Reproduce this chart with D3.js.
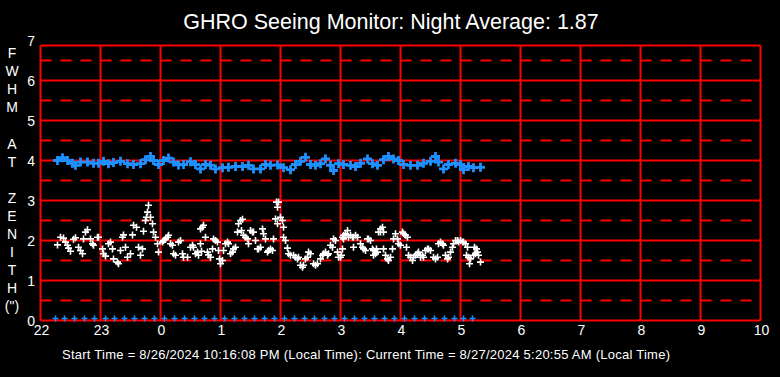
<!DOCTYPE html>
<html><head><meta charset="utf-8">
<script src="https://cdn.jsdelivr.net/npm/d3@7"></script>
<style>html,body{margin:0;padding:0;background:#000;}svg{display:block;}</style>
</head><body>
<script>
// ---- data (minutes after 22:00, FWHM arcsec) ----
const title = "GHRO Seeing Monitor: Night Average: 1.87";
const footer = "Start Time = 8/26/2024 10:16:08 PM (Local Time): Current Time = 8/27/2024 5:20:55 AM (Local Time)";
const yLabel = ["F","W","H","M","","A","T","","Z","E","N","I","T","H","(\")"];
const xTickLabels = ["22","23","0","1","2","3","4","5","6","7","8","9","10"];
const yTickLabels = ["0","1","2","3","4","5","6","7"];

const blueMin = [17,22,27,32,35,40,47,53,58,63,68,73,80,87,93,100,105,110,113,118,123,128,133,138,143,150,155,160,165,170,175,182,188,195,202,208,213,220,225,230,237,243,250,255,260,265,270,275,280,285,290,293,298,303,310,315,320,327,332,337,343,348,353,358,363,370,377,383,390,395,398,403,408,415,420,423,428,433,440];
const blueVal = [4.00,4.07,4.00,3.93,3.88,3.96,3.96,3.93,3.93,3.98,3.92,3.95,3.98,3.92,3.90,3.92,4.02,4.10,4.00,3.90,4.00,4.06,3.96,3.89,3.90,3.97,3.90,3.79,3.90,3.88,3.79,3.82,3.83,3.85,3.85,3.88,3.79,3.79,3.90,3.88,3.89,3.82,3.77,3.90,3.98,4.08,3.90,3.88,3.92,4.04,3.88,3.75,3.92,3.90,3.88,3.85,3.93,4.04,3.92,3.88,4.02,4.10,4.04,4.00,3.90,3.88,3.88,3.93,3.98,4.10,3.96,3.79,3.90,3.93,3.90,3.77,3.85,3.82,3.83];

const whiteMin = [17,20,23,25,27,28,30,33,35,38,40,42,43,45,47,50,52,53,57,58,62,63,65,68,70,72,73,77,78,80,82,83,85,87,90,92,93,96,98,100,102,103,105,107,108,106,110,112,113,115,117,118,122,123,125,127,128,130,132,133,135,138,140,142,143,147,150,152,153,155,157,158,160,
161,162,163,160,165,167,168,170,172,173,175,177,178,179,180,182,183,185,187,188,190,192,193,195,197,198,200,202,201,203,205,207,208,210,212,213,215,217,218,220,222,223,225,227,228,230,232,233,235,237,236,238,237,240,242,243,243,245,247,248,250,253,255,257,258,260,262,263,265,267,268,270,273,275,277,280,282,283,285,287,288,290,292,293,295,297,298,300,303,
302,303,305,307,308,310,312,313,315,317,302,301,313,320,322,323,325,327,328,330,332,333,335,337,333,336,338,340,342,340,343,343,345,347,348,350,352,353,355,357,358,360,362,363,365,367,366,368,370,372,373,375,377,378,380,382,383,385,387,388,390,393,395,397,398,400,402,403,405,407,408,410,412,413,415,417,418,420,422,423,425,427,426,428,430,429,433,435,437,438,434,436,440];
const whiteVal = [1.89,2.08,2.06,1.96,1.88,1.81,1.73,2.03,2.07,1.83,1.75,1.67,2.04,2.21,2.27,2.04,1.92,1.88,2.08,2.08,1.79,1.67,1.61,1.92,1.96,1.79,1.54,1.46,1.42,1.75,2.08,2.14,1.83,1.58,1.67,2.14,2.38,2.33,1.83,1.63,1.79,2.23,2.50,2.71,2.88,2.58,2.58,2.42,2.21,2.08,1.92,1.71,1.96,2.00,2.04,2.08,2.13,1.92,1.88,1.67,1.63,1.96,2.00,1.67,1.58,1.58,1.83,1.88,1.83,1.67,1.71,1.63,2.29,
1.73,2.33,2.38,1.92,2.08,1.71,1.64,1.58,1.79,2.04,2.00,1.96,1.75,1.54,1.42,1.50,1.75,1.92,1.96,1.92,1.67,1.71,1.79,1.83,2.21,2.42,2.50,2.53,2.25,2.13,2.08,2.04,1.92,2.25,2.21,2.21,2.00,1.79,1.79,1.83,2.29,2.17,2.04,1.71,1.75,1.79,1.75,2.04,2.54,2.42,2.96,2.96,2.83,2.58,2.50,2.33,2.08,2.00,1.81,1.67,1.63,1.63,1.58,1.54,1.58,1.38,1.33,1.38,1.54,1.58,1.71,1.67,1.42,1.38,1.42,1.54,1.63,1.67,1.71,1.63,1.67,1.88,1.83,2.04,2.00,1.71,1.58,1.58,2.04,
2.08,2.13,2.17,2.25,2.08,2.13,2.08,2.08,2.13,2.08,1.79,1.63,1.83,1.92,1.83,1.79,1.75,2.04,2.04,2.00,1.79,1.75,1.67,1.71,1.63,1.79,2.21,2.29,2.33,2.21,2.21,1.79,1.63,1.54,1.50,1.58,1.79,2.04,2.17,2.04,1.92,1.88,2.21,2.17,2.13,2.08,1.83,1.63,1.58,1.50,1.58,1.63,1.67,1.71,1.58,1.63,1.58,1.75,1.79,1.79,1.75,1.58,1.54,1.58,1.92,1.96,1.92,1.88,1.63,1.54,1.58,1.71,1.83,1.92,2.00,2.00,1.96,2.00,1.96,1.96,1.92,1.83,1.63,1.58,1.54,1.42,1.63,1.67,1.71,1.63,1.83,1.79,1.46];

const zeroMin = [15,24,34,44,54,65,74,84,94,104,114,124,134,144,154,164,174,184,194,204,214,224,234,244,254,264,274,284,294,304,314,324,334,344,354,364,374,384,394,404,414,423,432];
const zeroVal = zeroMin.map(() => 0.05);

// ---- chart ----
const W = 780, H = 377;
const svg = d3.select("body").append("svg").attr("width", W).attr("height", H)
  .style("background", "#000");
svg.append("rect").attr("width", W).attr("height", H).attr("fill", "#000");

const x = d3.scaleLinear().domain([0, 720]).range([40.5, 760.5]);
const y = d3.scaleLinear().domain([0, 7]).range([320.5, 40.5]);
const frameTop = 45.5;
const RED = "#ff0000", BLUE = "#1e90ff";
const font = "Liberation Sans, Arial, sans-serif";

// dashed half-unit lines
const g = svg.append("g");
[0.5,1.5,2.5,3.5,4.5,5.5,6.5].forEach(v => {
  g.append("line").attr("x1", x(0)).attr("x2", x(720)).attr("y1", y(v)).attr("y2", y(v))
    .attr("stroke", RED).attr("stroke-width", 2).attr("stroke-dasharray", "11,9");
});
// solid lines
[1,2,3,4,5,6].forEach(v => {
  g.append("line").attr("x1", x(0)).attr("x2", x(720)).attr("y1", y(v)).attr("y2", y(v))
    .attr("stroke", RED).attr("stroke-width", 2);
});
d3.range(0, 721, 60).forEach(m => {
  g.append("line").attr("x1", x(m)).attr("x2", x(m)).attr("y1", frameTop).attr("y2", y(0))
    .attr("stroke", RED).attr("stroke-width", 2);
});
g.append("line").attr("x1", x(0)).attr("x2", x(720)).attr("y1", frameTop).attr("y2", frameTop)
  .attr("stroke", RED).attr("stroke-width", 2);
g.append("line").attr("x1", x(0)).attr("x2", x(720)).attr("y1", y(0)).attr("y2", y(0))
  .attr("stroke", RED).attr("stroke-width", 2);

// markers
function plus(sel, mins, vals, color, half, sw) {
  const p = d3.path();
  mins.forEach((m, i) => {
    const cx = x(m), cy = y(vals[i]);
    p.moveTo(cx - half, cy); p.lineTo(cx + half, cy);
    p.moveTo(cx, cy - half); p.lineTo(cx, cy + half);
  });
  sel.append("path").attr("d", p.toString()).attr("stroke", color).attr("stroke-width", sw).attr("fill", "none");
}
plus(svg, zeroMin, zeroVal, BLUE, 3, 1.5);
plus(svg, blueMin, blueVal, BLUE, 4.5, 2.8);
plus(svg, whiteMin, whiteVal, "#ffffff", 3.5, 1.6);

// tick labels
yTickLabels.forEach((t, i) => {
  svg.append("text").attr("x", 35).attr("y", y(i) + 5).attr("text-anchor", "end")
    .attr("fill", "#fff").attr("font-family", font).attr("font-size", 14).text(t);
});
xTickLabels.forEach((t, i) => {
  svg.append("text").attr("x", x(i * 60) + 1).attr("y", 335).attr("text-anchor", "middle")
    .attr("fill", "#fff").attr("font-family", font).attr("font-size", 14).text(t);
});

// y label
yLabel.forEach((c, i) => {
  svg.append("text").attr("x", 12).attr("y", 58 + i * 18.1).attr("text-anchor", "middle")
    .attr("fill", "#fff").attr("font-family", font).attr("font-size", 14).text(c);
});

// title
svg.append("text").attr("x", 391).attr("y", 29).attr("text-anchor", "middle")
  .attr("fill", "#fff").attr("font-family", font).attr("font-size", 21.5).text(title);

// footer
svg.append("text").attr("x", 62).attr("y", 359).attr("text-anchor", "start")
  .attr("fill", "#fff").attr("font-family", font).attr("font-size", 13)
  .attr("textLength", 608).attr("lengthAdjust", "spacing")
  .style("white-space", "pre").text(footer);
</script>
</body></html>
